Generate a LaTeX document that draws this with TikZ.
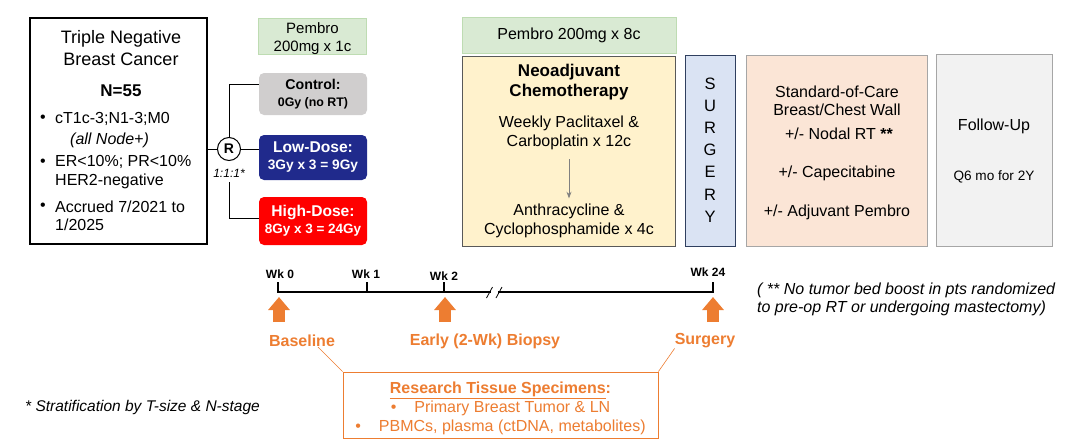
\documentclass[tikz,border=0pt]{standalone}
\usepackage{fontspec}
\setmainfont{Liberation Sans}
\usepackage{xcolor}
\definecolor{trialorange}{RGB}{237,125,49}
\definecolor{pembrofill}{RGB}{217,234,211}
\definecolor{pembroline}{RGB}{190,220,178}
\definecolor{controlgray}{RGB}{208,206,206}
\definecolor{lowblue}{RGB}{32,42,140}
\definecolor{highred}{RGB}{255,0,0}
\definecolor{chemofill}{RGB}{255,242,204}
\definecolor{chemoline}{RGB}{89,89,89}
\definecolor{surgfill}{RGB}{218,227,243}
\definecolor{surgline}{RGB}{47,63,95}
\definecolor{socfill}{RGB}{251,229,214}
\definecolor{boxgray}{RGB}{166,166,166}
\definecolor{followfill}{RGB}{242,242,242}
\usetikzlibrary{arrows.meta, positioning}
\newcommand{\fsz}[2]{\fontsize{#1}{#2}\selectfont}

\begin{document}
\begin{tikzpicture}[x=1pt, y=-1pt, >=Stealth,
    txt/.style={inner sep=0pt, align=center, font=\fsz{16}{19}},
    armbox/.style={rounded corners=5pt, minimum width=108pt, inner sep=0pt, align=center, font=\bfseries\fsz{15.6}{17}},
    phase/.style={draw, line width=0.9pt, inner sep=0pt},
    pembrobox/.style={draw=pembroline, fill=pembrofill, line width=1pt, minimum height=36pt, inner sep=0pt, align=center},
    link/.style={line width=1pt},
    orangelbl/.style={inner sep=0pt, text=trialorange, font=\bfseries\fsz{16}{19}},
    bigup/.style={trialorange, line width=12pt, -{Triangle[width=21pt, length=13pt]}},
    tick/.style={line width=1.2pt}]

\useasboundingbox (0,0) rectangle (1080,445);

% === Population ===
\node[draw, line width=2.5pt, minimum width=177pt, minimum height=226pt, inner sep=0pt] (tnbc) at (118.5,131) {};
\node[txt, font=\fsz{18}{22}] (tnbctitle) at (121,48) {Triple Negative\\Breast Cancer};
\node[txt, font=\bfseries\fsz{17}{20}] (nfive) at (121,91) {N=55};

% Criterios
\foreach \y/\name in {119/stagedot, 163/receptordot, 207/accrualdot}
    \node[txt] (\name) at (43,\y) {\textbullet};
\node[txt, anchor=west] (stage) at (55,119) {cT1c-3;N1-3;M0};
\node[txt, anchor=west, font=\itshape\fsz{16}{19}] (nodepos) at (70,140) {(all Node+)};
\node[txt, anchor=west, align=left] (receptor) at (55,172.5) {ER<10\%; PR<10\%\\HER2-negative};
\node[txt, anchor=west, align=left, font=\fsz{16}{18}] (accrual) at (55,216) {Accrued 7/2021 to\\1/2025};

% === Randomization ===
\node[draw, circle, line width=1pt, minimum size=23pt, inner sep=0pt, font=\bfseries\fsz{14}{16}] (rand) at (229,149) {R};
\node[txt, font=\itshape\fsz{12}{14}] (ratio) at (229,173) {1:1:1*};

\node[pembrobox, minimum width=108pt] (pembroone) at (312.5,36) {};
\node[txt, font=\fsz{15}{18}, yshift=-3pt] (pembroonetext) at (pembroone) {Pembro\\200mg x 1c};
\node[armbox, fill=controlgray, minimum height=42pt, font=\bfseries\fsz{14.2}{17}] (control) at (313,94) {Control:\\{\fsz{12.4}{15}0Gy (no RT)}};
\node[armbox, fill=lowblue, text=white, minimum height=45pt] (lowdose) at (313,157.5) {Low-Dose:\\{\fsz{13.7}{16}3Gy x 3 = 9Gy}};
\node[armbox, fill=highred, text=white, minimum height=48pt] (highdose) at (313,221) {High-Dose:\\{\fsz{13.5}{16}8Gy x 3 = 24Gy}};

\draw[link] (rand.west) -- (rand.west -| tnbc.east);
\draw[link] (rand.north) |- ([yshift=10pt]control.west);
\draw[link] (rand.east) -- (rand.east -| lowdose.west);
\draw[link, shorten <=5pt] (ratio.south) |- ([yshift=3pt]highdose.west);

% === Neoadjuvant ===
\node[pembrobox, minimum width=214pt, font=\fsz{16}{19}] (pembroeight) at (569,35) {Pembro 200mg x 8c};
\node[phase, draw=chemoline, fill=chemofill, minimum width=213pt, minimum height=190pt] (chemo) at (569,151.5) {};
\node[txt, font=\bfseries\fsz{17}{20}] (chemotitle) at (569,82) {Neoadjuvant\\Chemotherapy};
\node[txt] (taxane) at (569,133) {Weekly Paclitaxel \&\\Carboplatin x 12c};
\node[txt] (anthra) at (569,220.5) {Anthracycline \&\\Cyclophosphamide x 4c};
\draw[->, gray, line width=0.8pt, shorten <=9pt, shorten >=5pt] (taxane) -- (anthra);

% === Surgery ===
\node[phase, draw=surgline, fill=surgfill, minimum width=50pt, minimum height=191pt] (surgery) at (710.5,151) {};
\node[txt, font=\fsz{16.5}{22.2}] (surgeryword) at (710,150) {S\\U\\R\\G\\E\\R\\Y};

% === Adjuvant ===
\node[phase, draw=boxgray, fill=socfill, minimum width=181pt, minimum height=191pt] (soc) at (837,151) {};
\node[txt, font=\fsz{16}{18}] (socbreast) at (837,101) {Standard-of-Care\\Breast/Chest Wall};
\node[txt] (socnodal) at (839,134) {+/- Nodal RT \textbf{**}};
\node[txt] (soccape) at (837,173) {+/- Capecitabine};
\node[txt] (socpembro) at (837,212) {+/- Adjuvant Pembro};

% === Follow-up ===
\node[phase, draw=boxgray, fill=followfill, minimum width=116pt, minimum height=192pt] (follow) at (994.5,150.5) {};
\node[txt] (followtitle) at (994,126) {Follow-Up};
\node[txt, font=\fsz{13.6}{16}] (followfreq) at (994,177) {Q6 mo for 2Y};

% === Timeline ===
\coordinate (wk0) at (278,292);
\coordinate (wk1) at (367,292);
\coordinate (wk2) at (444,292);
\coordinate (breakl) at (491,292);
\coordinate (breakr) at (498,292);
\coordinate (wk24) at (713,292);
\draw[tick] (wk0) ++(0,-10) -- (wk0) -- (breakl);
\draw[tick] (breakr) -- (wk24) -- ++(0,-10);
\foreach \t in {wk1, wk2}
    \draw[tick] (\t) -- ++(0,-10);
\draw[line width=0.8pt] (486.5,298) -- (492.5,287) (496,298) -- (502,287);

\foreach \name/\x/\y/\lbl in {wkzero/280/274/Wk 0, wkone/366/274/Wk 1, wktwo/444/276/Wk 2, wkend/708/272/Wk 24}
    \node[txt, font=\bfseries\fsz{12}{14}] (\name) at (\x,\y) {\lbl};

% Biopsias
\foreach \x/\name in {279/basearrow, 445/biopsyarrow, 713/surgarrow} {
    \coordinate (\name) at (\x,322);
    \draw[bigup] (\name) -- ++(0,-25);
}
\node[orangelbl] (baseline) at (302,341) {Baseline};
\node[orangelbl] (biopsy) at (485,341) {Early (2-Wk) Biopsy};
\node[orangelbl] (surgerylbl) at (705,341) {Surgery};

% === Tissue ===
\node[draw=trialorange, line width=0.8pt, fill=white, minimum width=315pt, minimum height=66pt, inner sep=0pt] (tissue) at (500.5,405) {};
\node[txt, text=trialorange, yshift=-3pt] (tissuetext) at (tissue)
    {\textbf{\underline{Research Tissue Specimens}:}\\\textbullet\hspace{18pt}Primary Breast Tumor \& LN\\\textbullet\hspace{18pt}PBMCs, plasma (ctDNA, metabolites)};
\draw[trialorange, line width=0.6pt] ([xshift=16pt]baseline.south) -- (tissue.north west);
\draw[trialorange, line width=0.6pt] (surgerylbl.south west) -- (tissue.north east);

% === Notas ===
\node[txt, anchor=west, font=\itshape\fsz{15.5}{18}] (strat) at (25,407) {* Stratification by T-size \& N-stage};
\node[txt, anchor=west, align=left, font=\itshape\fsz{16}{18}] (boostnote) at (757,299) {( ** No tumor bed boost in pts randomized\\to pre-op RT or undergoing mastectomy)};

\end{tikzpicture}
\end{document}
